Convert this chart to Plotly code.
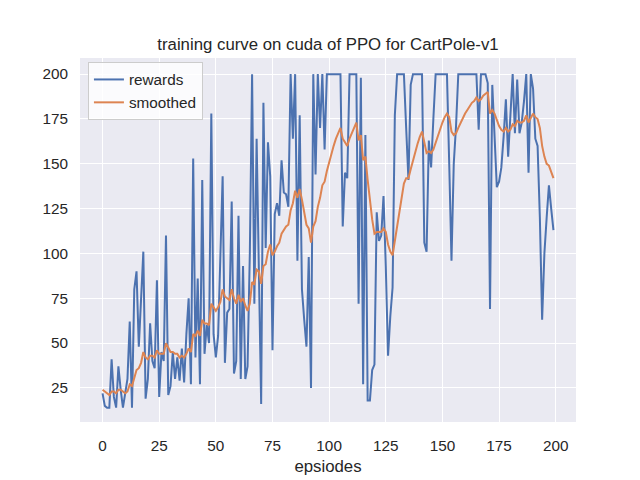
import plotly.graph_objects as go

episodes = list(range(200))

rewards = [
    22, 15, 14, 14, 41, 20, 14, 37, 24, 14,
    22, 30, 62, 14, 80, 90, 48, 75, 101, 19,
    30, 61, 40, 36, 85, 20, 45, 40, 110, 21,
    26, 45, 30, 42, 29, 47, 28, 55, 75, 27,
    153, 42, 86, 27, 141, 44, 60, 50, 178, 55,
    42, 54, 100, 143, 39, 67, 69, 129, 33, 40,
    121, 30, 93, 30, 37, 100, 200, 72, 164, 90,
    16, 184, 103, 162, 143, 46, 122, 128, 121, 152,
    134, 133, 126, 200, 164, 200, 96, 177, 80, 63,
    48, 98, 25, 200, 144, 200, 170, 200, 158, 200,
    200, 200, 200, 200, 200, 200, 115, 145, 142, 200,
    200, 200, 200, 72, 198, 27, 166, 18, 18, 35,
    38, 123, 107, 110, 132, 93, 43, 65, 81, 177,
    200, 200, 200, 200, 170, 141, 194, 200, 200, 200,
    200, 200, 106, 101, 163, 148, 175, 200, 200, 200,
    200, 200, 200, 150, 96, 150, 171, 200, 200, 200,
    200, 200, 200, 200, 200, 200, 169, 200, 200, 200,
    195, 69, 194, 160, 137, 140, 148, 165, 186, 154,
    180, 200, 167, 197, 167, 173, 185, 200, 145, 200,
    192, 164, 160, 120, 63, 100, 120, 138, 125, 113,
]

smoothed = [
    24, 23, 22, 21, 23, 23, 22, 24, 24, 23,
    22, 23, 27, 26, 31, 35, 36, 39, 45, 42,
    41, 43, 43, 42, 46, 44, 44, 44, 50, 47,
    45, 45, 44, 44, 42, 43, 42, 44, 47, 45,
    55, 54, 57, 54, 63, 61, 61, 60, 72, 70,
    68, 70, 73, 80, 76, 75, 74, 80, 75, 72,
    77, 73, 75, 71, 68, 72, 84, 83, 91, 90,
    83, 93, 94, 101, 105, 99, 101, 104, 106, 111,
    113, 115, 116, 124, 128, 135, 131, 136, 130, 123,
    116, 114, 106, 115, 118, 126, 131, 138, 140, 146,
    151, 156, 160, 164, 167, 170, 164, 162, 160, 164,
    167, 170, 173, 163, 166, 152, 154, 141, 129, 119,
    111, 112, 112, 112, 114, 112, 105, 101, 99, 107,
    116, 125, 132, 139, 142, 142, 147, 152, 157, 161,
    165, 168, 162, 156, 157, 156, 158, 162, 166, 170,
    173, 176, 178, 176, 168, 166, 167, 170, 173, 176,
    178, 180, 182, 184, 185, 187, 185, 186, 188, 189,
    190, 178, 180, 178, 174, 171, 169, 168, 170, 168,
    169, 172, 171, 174, 173, 173, 174, 177, 173, 176,
    178, 176, 175, 170, 160, 154, 150, 149, 146, 142,
]

x_ticks = [0, 25, 50, 75, 100, 125, 150, 175, 200]
y_ticks = [25, 50, 75, 100, 125, 150, 175, 200]

font = "Arial, Liberation Sans, DejaVu Sans, sans-serif"

fig = go.Figure()
fig.add_trace(go.Scatter(x=episodes, y=rewards, mode="lines", name="rewards",
                         line=dict(color="#4C72B0", width=2)))
fig.add_trace(go.Scatter(x=episodes, y=smoothed, mode="lines", name="smoothed",
                         line=dict(color="#DD8452", width=2)))

# the page body adds an 8px offset, so margins are shifted to compensate
fig.update_layout(
    width=640, height=480,
    margin=dict(l=72, r=72, t=50, b=66),
    paper_bgcolor="white",
    plot_bgcolor="#EAEAF2",
    font=dict(family=font, color="#262626", size=15),
    title=dict(text="training curve on cuda of PPO for CartPole-v1",
               x=0.5, xref="paper", xanchor="center",
               y=1 - 36 / 480, yref="container", yanchor="middle",
               font=dict(size=16.8, color="#262626")),
    legend=dict(x=0.016, y=0.989, xanchor="left", yanchor="top",
                bgcolor="rgba(255,255,255,0.8)", bordercolor="#CCCCCC",
                borderwidth=1, font=dict(size=15.3), tracegroupgap=0),
    showlegend=True,
)
fig.update_xaxes(range=[-9.95, 208.95], tickvals=x_ticks, showgrid=True,
                 gridcolor="white", gridwidth=1.3, zeroline=False,
                 ticks="outside", ticklen=10, tickcolor="rgba(0,0,0,0)",
                 tickfont=dict(size=15.3),
                 title=dict(text="epsiodes", font=dict(size=16.8), standoff=6))
fig.update_yaxes(range=[6.0, 209.0], tickvals=y_ticks, showgrid=True,
                 gridcolor="white", gridwidth=1.3, zeroline=False,
                 ticks="outside", ticklen=8, tickcolor="rgba(0,0,0,0)",
                 tickfont=dict(size=15.3))

fig.write_html("out.html")
